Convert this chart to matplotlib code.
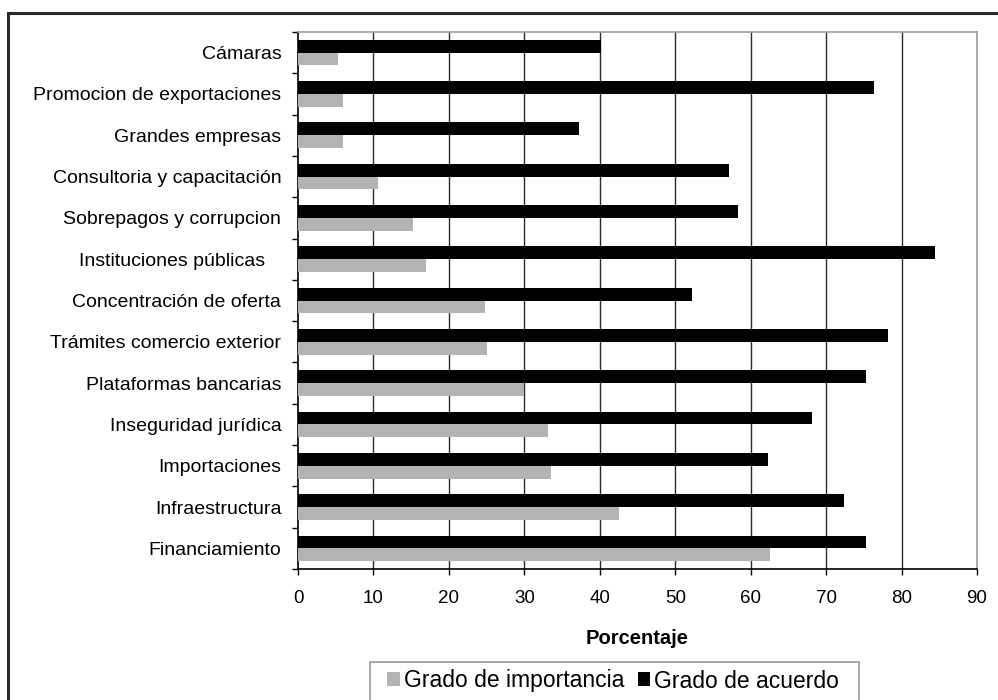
import matplotlib
matplotlib.use("Agg")
import matplotlib.pyplot as plt
from matplotlib.patches import Rectangle
import numpy as np

plt.rcParams['font.family'] = ['Liberation Sans', 'DejaVu Sans']

categories = [
    "Cámaras",
    "Promocion de exportaciones",
    "Grandes empresas",
    "Consultoria y capacitación",
    "Sobrepagos y corrupcion",
    "Instituciones públicas   ",
    "Concentración de oferta",
    "Trámites comercio exterior",
    "Plataformas bancarias",
    "Inseguridad jurídica",
    "Importaciones",
    "Infraestructura",
    "Financiamiento",
]
grado_acuerdo = [40.2, 76.3, 37.2, 57.1, 58.3, 84.4, 52.2, 78.2, 75.3, 68.1, 62.3, 72.4, 75.3]
grado_importancia = [5.3, 5.9, 5.9, 10.6, 15.3, 17.0, 24.8, 25.1, 30.0, 33.1, 33.6, 42.6, 62.5]
x_ticks = [0, 10, 20, 30, 40, 50, 60, 70, 80, 90]

W, H = 998, 700
fig = plt.figure(figsize=(W / 100, H / 100), dpi=100)

# outer frame around the whole chart
fig.patches.append(Rectangle((8 / W, -0.1), 1.2, 1 - 13 / H + 0.1,
                             transform=fig.transFigure, fill=False,
                             edgecolor='#2a2a2a', linewidth=2.2, zorder=0))

ax = fig.add_axes([298 / W, 1 - 569 / H, (977 - 298) / W, (569 - 32) / H])

y = np.arange(len(categories))
bh = 0.31
ax.barh(y - bh / 2, grado_acuerdo, height=bh, color='black',
        label='Grado de acuerdo', zorder=3)
ax.barh(y + bh / 2, grado_importancia, height=bh, color='#b3b3b3',
        label='Grado de importancia', zorder=3)

ax.set_ylim(len(categories) - 0.5, -0.5)
ax.set_xlim(0, 90)

ax.set_yticks(y)
ax.set_yticklabels(categories, fontsize=14)
ax.set_yticks(np.arange(len(categories) + 1) - 0.5, minor=True)
ax.tick_params(axis='y', which='major', length=0, pad=12)
ax.tick_params(axis='y', which='minor', length=4, width=1, direction='out')

ax.set_xticks(x_ticks)
ax.set_xticklabels([str(v) for v in x_ticks], fontsize=13.5)
ax.tick_params(axis='x', length=4, width=1, direction='out', pad=11)

for v in x_ticks[1:]:
    ax.axvline(v, color='#2a2a2a', linewidth=1.0, zorder=1)

ax.spines['left'].set_color('black')
ax.spines['bottom'].set_color('black')
ax.spines['top'].set_color('#a0a0a0')
ax.spines['right'].set_color('#a0a0a0')
for s in ax.spines.values():
    s.set_linewidth(1.2)

ax.set_xlabel('Porcentaje', fontsize=14.5, fontweight='bold', labelpad=16)

# legend box runs off the lower edge of the figure
fig.patches.append(Rectangle((370 / W, -0.05), (859 - 370) / W, 1 - 662 / H + 0.05,
                             transform=fig.transFigure, fill=False,
                             edgecolor='#999999', linewidth=1.2, zorder=1))

handles, labels = ax.get_legend_handles_labels()
leg = fig.legend(handles[::-1], labels[::-1], loc='center',
                 bbox_to_anchor=(613 / W, 1 - 681 / H), ncol=2,
                 fontsize=16.5, frameon=False,
                 handlelength=0.55, handleheight=0.55,
                 handletextpad=0.15, columnspacing=0.6, borderpad=0.2,
                 borderaxespad=0)

fig.savefig('out.png', dpi=100)
